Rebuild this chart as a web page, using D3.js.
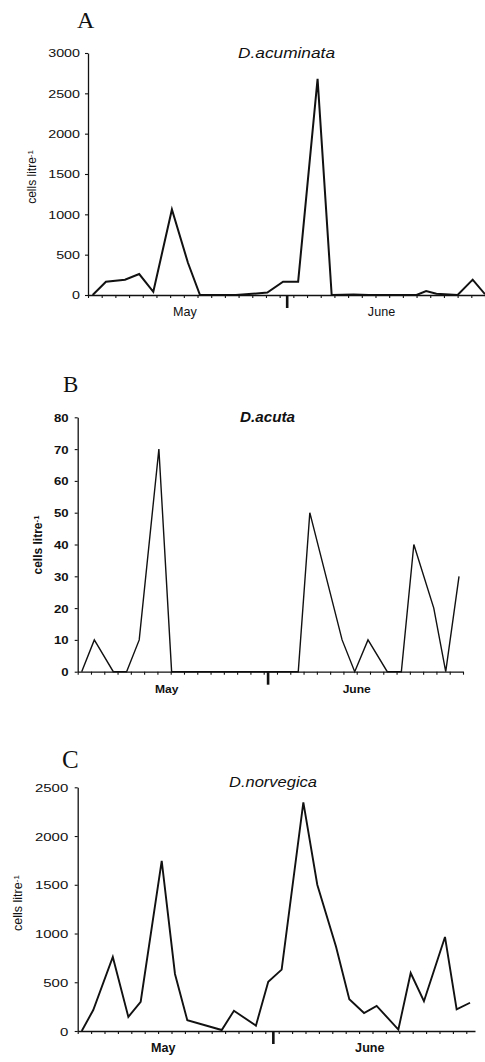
<!DOCTYPE html>
<html>
<head>
<meta charset="utf-8">
<script src="https://cdn.jsdelivr.net/npm/d3@7"></script>
<style>
  html, body { margin: 0; padding: 0; background: #fff; }
  svg { display: block; }
  text { font-family: "Liberation Sans", Arial, sans-serif; fill: #111; }
</style>
</head>
<body>
<svg id="chart" width="485" height="1062"></svg>
<script>
// ---------- data ----------
const panelLetters = ["A", "B", "C"];
const speciesNames = ["D.acuminata", "D.acuta", "D.norvegica"];
const monthLabels = ["May", "June"];
const yTitle = "cells litre";
const yTitleSup = "-1";

// sampling positions in x-axis tick units, and cell counts (cells per litre)
const acuminataX = [0.34, 1.31, 2.7, 3.74, 4.77, 6.13, 7.3, 8.18, 10.8, 12.0, 13.1, 14.25, 15.35, 16.77, 17.8, 19.4, 20.5, 21.5, 22.4, 24.0, 24.7, 25.45, 27.0, 28.1, 29.0];
const acuminataY = [0, 165, 190, 260, 40, 1060, 400, 0, 0, 15, 30, 165, 165, 2680, 0, 5, 0, 0, 0, 0, 50, 15, 0, 190, 10];

const acutaX = [0.3, 1.25, 2.68, 3.68, 4.63, 6.11, 7.07, 8.2, 10.8, 11.8, 13.4, 14.4, 15.5, 16.6, 17.47, 19.9, 20.85, 21.85, 23.3, 24.36, 25.3, 26.8, 27.7, 28.7];
const acutaY = [0, 10, 0, 0, 10, 70, 0, 0, 0, 0, 0, 0, 0, 0, 50, 10, 0, 10, 0, 0, 40, 20, 0, 30];

const norvegicaX = [0.3, 1.16, 2.62, 3.78, 4.7, 6.27, 7.26, 8.18, 10.75, 11.66, 13.3, 14.22, 15.22, 16.84, 17.88, 19.28, 20.27, 21.37, 22.31, 23.93, 24.85, 25.84, 27.41, 28.28, 29.28];
const norvegicaY = [0, 215, 760, 145, 300, 1745, 585, 110, 10, 208, 55, 506, 630, 2345, 1500, 865, 325, 185, 258, 15, 595, 305, 965, 222, 290];

const yTicksA = [0, 500, 1000, 1500, 2000, 2500, 3000];
const yTicksB = [0, 10, 20, 30, 40, 50, 60, 70, 80];
const yTicksC = [0, 500, 1000, 1500, 2000, 2500];

const xTickUnits = d3.range(0, 30);   // minor ticks on the x axis
const markerTick = [14.55, 14.33, 14.6]; // heavy tick on each x axis
const monthCenters = [[7.08, 21.44], [6.7, 21.0], [6.39, 21.8]];

// ---------- layout ----------
const panels = [
  { xs: acuminataX, ys: acuminataY, yTicks: yTicksA, yMax: 3000, xUnits: 29,
    x0: 88, x1: 485, yTop: 53, yBot: 295, lw: 2,
    letter: { x: 77, y: 28, size: 24 },
    title: { x: 238, y: 58, size: 14, len: 97, weight: "normal" },
    yT: { x: 32, y: 177, size: 12, weight: "normal" },
    tick: { size: 11, k: 1.3, weight: "normal", gap: 8 },
    month: { y: 316, size: 12, weight: "normal", k: 1.05 } },
  { xs: acutaX, ys: acutaY, yTicks: yTicksB, yMax: 80, xUnits: 29,
    x0: 77.7, x1: 463, yTop: 417.3, yBot: 671.7, lw: 1.4,
    letter: { x: 63, y: 392, size: 23 },
    title: { x: 240, y: 422, size: 14, len: 55, weight: "bold" },
    yT: { x: 38, y: 545, size: 12, weight: "bold" },
    tick: { size: 11, k: 1.2, weight: "bold", gap: 9 },
    month: { y: 693, size: 11.5, weight: "bold", k: 1.05 } },
  { xs: norvegicaX, ys: norvegicaY, yTicks: yTicksC, yMax: 2500, xUnits: 29.65,
    x0: 77.7, x1: 475, yTop: 787.3, yBot: 1031, lw: 1.9,
    letter: { x: 62, y: 768, size: 25 },
    title: { x: 229, y: 787, size: 14, len: 88, weight: "normal" },
    yT: { x: 18, y: 903, size: 12.5, weight: "normal" },
    tick: { size: 11.5, k: 1.3, weight: "normal", gap: 9.5 },
    month: { y: 1052, size: 12, weight: "bold", k: 1.05 } }
];

const svg = d3.select("#chart");

panels.forEach((p, i) => {
  const g = svg.append("g");
  const x = d3.scaleLinear().domain([0, p.xUnits]).range([p.x0, p.x1]);
  const y = d3.scaleLinear().domain([0, p.yMax]).range([p.yBot, p.yTop]);

  // panel letter
  g.append("text")
    .attr("x", p.letter.x).attr("y", p.letter.y)
    .style("font-family", "'Liberation Serif', 'Times New Roman', serif")
    .style("font-size", p.letter.size + "px")
    .text(panelLetters[i]);

  // species title
  g.append("text")
    .attr("x", p.title.x).attr("y", p.title.y)
    .attr("textLength", p.title.len).attr("lengthAdjust", "spacingAndGlyphs")
    .style("font-size", p.title.size + "px")
    .style("font-style", "italic")
    .style("font-weight", p.title.weight)
    .text(speciesNames[i]);

  // y axis title
  const yt = g.append("text")
    .attr("transform", `translate(${p.yT.x},${p.yT.y}) rotate(-90)`)
    .attr("text-anchor", "middle")
    .attr("dy", "0.35em")
    .style("font-size", p.yT.size + "px")
    .style("font-weight", p.yT.weight);
  yt.append("tspan").text(yTitle);
  yt.append("tspan").attr("dy", "-0.45em").style("font-size", (p.yT.size * 0.65) + "px").text(yTitleSup);

  // y axis
  const yAxis = g.append("g")
    .attr("transform", `translate(${p.x0},0)`)
    .call(d3.axisLeft(y).tickValues(p.yTicks).tickSize(3).tickSizeOuter(0).tickFormat(d3.format("d")));
  yAxis.select(".domain").attr("stroke", "#111").attr("stroke-width", 1.3);
  yAxis.selectAll(".tick line").attr("stroke", "#111").attr("stroke-width", 1.1);
  yAxis.selectAll(".tick text")
    .attr("x", null).attr("dy", "0.36em")
    .attr("transform", `translate(${-p.tick.gap},0) scale(${p.tick.k},1)`)
    .attr("fill", "#111")
    .style("font-family", "'Liberation Sans', Arial, sans-serif")
    .style("font-size", p.tick.size + "px")
    .style("font-weight", p.tick.weight);

  // x axis
  const xAxis = g.append("g")
    .attr("transform", `translate(0,${p.yBot})`)
    .call(d3.axisBottom(x).tickValues(xTickUnits).tickSize(3).tickSizeOuter(0).tickFormat(""));
  xAxis.select(".domain").attr("stroke", "#111").attr("stroke-width", 1.3);
  xAxis.selectAll(".tick line").attr("stroke", "#111").attr("stroke-width", 1.1);

  // heavy marker tick
  g.append("line")
    .attr("x1", x(markerTick[i])).attr("x2", x(markerTick[i]))
    .attr("y1", p.yBot).attr("y2", p.yBot + 13)
    .attr("stroke", "#111").attr("stroke-width", 2.6);

  // month labels
  monthLabels.forEach((m, j) => {
    g.append("text")
      .attr("transform", `translate(${x(monthCenters[i][j])},${p.month.y}) scale(${p.month.k},1)`)
      .attr("text-anchor", "middle")
      .style("font-size", p.month.size + "px")
      .style("font-weight", p.month.weight)
      .text(m);
  });

  // series line
  const pts = p.xs.map((d, k) => [d, p.ys[k]]);
  g.append("path")
    .datum(pts)
    .attr("fill", "none")
    .attr("stroke", "#111")
    .attr("stroke-width", p.lw)
    .attr("stroke-linejoin", "miter")
    .attr("d", d3.line().x(d => x(d[0])).y(d => y(d[1])));
});
</script>
</body>
</html>
